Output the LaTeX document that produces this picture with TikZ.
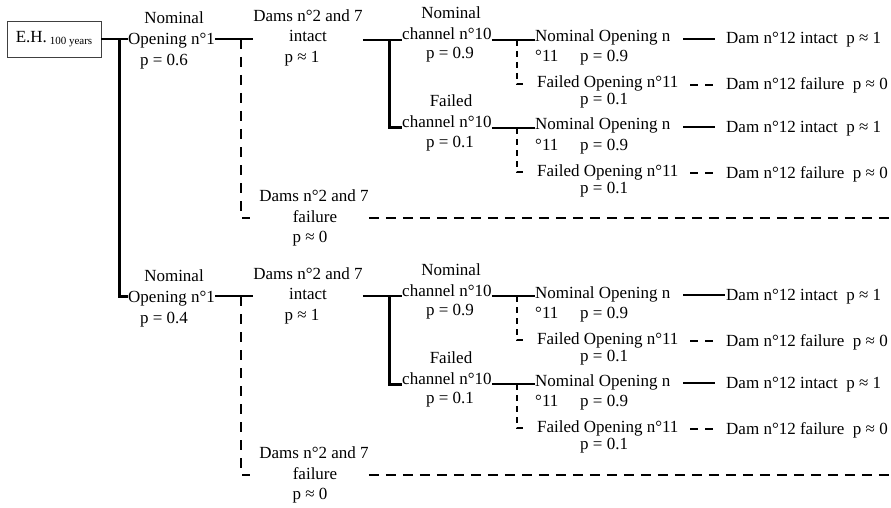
\documentclass[tikz,border=0pt]{standalone}
\usepackage{fontspec}
\setmainfont{Liberation Serif}
\begin{document}
\begin{tikzpicture}[x=1pt,y=-1pt,
  font=\fontsize{17}{20}\selectfont,
  lbl/.style={inner sep=0pt, anchor=base},
  lblw/.style={inner sep=0pt, anchor=base west},
  rootbox/.style={draw=black!75, line width=0.9pt, minimum width=94pt, minimum height=36pt, inner sep=0pt},
  solidln/.style={line width=2.7pt},
  trunk/.style={line width=3pt},
  dashv/.style={line width=2.7pt, dash pattern=on 10pt off 8pt},
  dashh/.style={line width=2.7pt, dash pattern=on 10pt off 7pt},
  dashsub/.style={line width=2.6pt, dash pattern=on 6pt off 5pt},
  dashdam/.style={line width=2.7pt, dash pattern=on 8pt off 7pt}]
\useasboundingbox (0,0) rectangle (891,508);

% root event
\node[rootbox] (eh) at (54,39) {E.H.\,\raisebox{-2pt}{\fontsize{11}{13}\selectfont 100 years}};

% first two levels: opening n°1, then dams n°2 and 7
\foreach \o/\p/\k in {0/0.6/a, 257/0.4/b}{
  \node[lbl]  (op1n-\k) at (174,\o+24) {Nominal};
  \node[lblw] (op1-\k)  at (128,\o+45) {Opening n°1};
  \node[lbl]  (op1p-\k) at (164,\o+66) {p = \p};
  \coordinate (y1-\k) at (0,\o+39);

  \node[lbl] (di1-\k) at (308,\o+22) {Dams n°2 and 7};
  \node[lbl] (di2-\k) at (308,\o+42) {intact};
  \node[lbl] (di3-\k) at (302,\o+63) {p ≈ 1};

  \node[lbl] (df1-\k) at (314,\o+201) {Dams n°2 and 7};
  \node[lbl] (df2-\k) at (315,\o+222) {failure};
  \node[lbl] (df3-\k) at (310,\o+242) {p ≈ 0};

  \coordinate (split1-\k) at (241,\o+39);
  \coordinate (fail1-\k)  at (241,\o+218);
  \coordinate (fail1e-\k) at (250,\o+218);
  \coordinate (edge-\k)   at (891,\o+218);

  \draw[solidln] (op1-\k.east |- y1-\k) -- (di1-\k.west |- y1-\k);
  \draw[dashv] (split1-\k) -- (fail1-\k) -- (fail1e-\k);
  \draw[dashh] (df1-\k.east |- fail1-\k) -- (edge-\k);
}

% root trunk
\coordinate (root-split) at (119,39);
\draw[solidln] (eh.east) -- (eh.east -| op1-a.west);
\draw[trunk] (root-split) |- (op1-b.west |- y1-b);

% channel n°10, opening n°11 and dam n°12
\foreach \q/\m/\h/\pp/\e in {0/an/Nominal/0.9/715, 88/af/Failed/0.1/715, 256/bn/Nominal/0.9/725, 344/bf/Failed/0.1/715}{
  \node[lbl]  (chh-\m) at (451,\q+19) {\h};
  \node[lblw] (ch-\m)  at (402,\q+40) {channel n°10};
  \node[lbl]  (chp-\m) at (450,\q+59) {p = \pp};
  \coordinate (ych-\m) at (0,\q+40);

  \node[lblw] (no-\m)  at (535,\q+42) {Nominal Opening n};
  \node[lblw] (no2-\m) at (535,\q+62) {°11};
  \node[lblw] (nop-\m) at (580,\q+62) {p = 0.9};
  \node[lblw] (fo-\m)  at (537,\q+88) {Failed Opening n°11};
  \node[lblw] (fop-\m) at (580,\q+105) {p = 0.1};

  \node[lblw] (dmi-\m) at (726,\q+44) {Dam n°12 intact\enspace p ≈ 1};
  \node[lblw] (dmf-\m) at (726,\q+90) {Dam n°12 failure\enspace p ≈ 0};

  \coordinate (sub-\m)  at (517,\q+40);
  \coordinate (subf-\m) at (517,\q+84);
  \coordinate (subfe-\m) at (524,\q+84);
  \coordinate (ds-\m) at (683,\q+39);
  \coordinate (de-\m) at (\e,\q+39);
  \coordinate (fs-\m) at (690,\q+85);
  \coordinate (fe-\m) at (713,\q+85);

  \draw[solidln] (ch-\m.east |- ych-\m) -- (no-\m.west |- ych-\m);
  \draw[dashsub] (sub-\m) -- (subf-\m) -- (subfe-\m);
  \draw[solidln] (ds-\m) -- (de-\m);
  \draw[dashdam] (fs-\m) -- (fe-\m);
}

% dams n°2 and 7 intact -> channel n°10
\foreach \k/\n/\f in {a/an/af, b/bn/bf}{
  \path (ych-\n) ++(389,0) coordinate (split2-\k);
  \draw[solidln] (di1-\k.east |- ych-\n) -- (ch-\n.west |- ych-\n);
  \draw[trunk] (split2-\k) |- (ch-\f.west |- ych-\f);
}
\end{tikzpicture}
\end{document}
